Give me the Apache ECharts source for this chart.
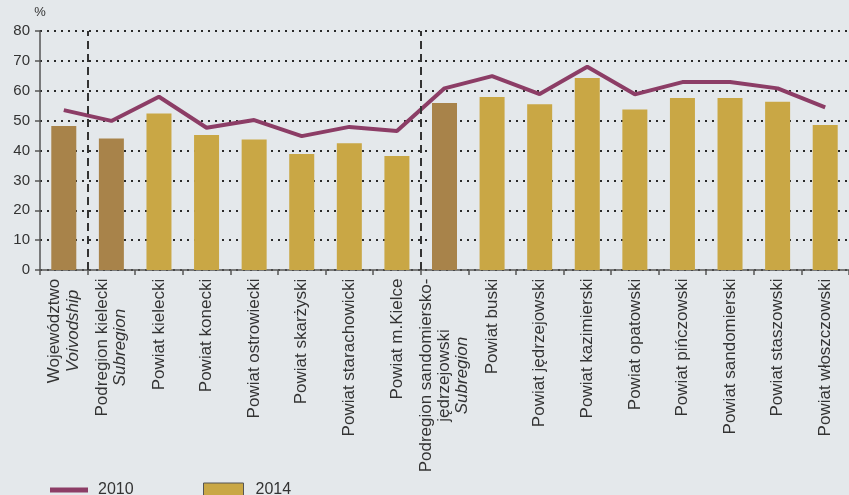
<!DOCTYPE html>
<html>
<head>
<meta charset="utf-8">
<script src="https://cdn.jsdelivr.net/npm/echarts@6/dist/echarts.min.js"></script>
<style>
  html, body { margin: 0; padding: 0; background: #e4e8eb; }
  #chart { width: 849px; height: 495px; }
</style>
</head>
<body>
<div id="chart"></div>
<script>
var categories = ['Województwo', 'Podregion kielecki', 'Powiat kielecki', 'Powiat konecki',
    'Powiat ostrowiecki', 'Powiat skarżyski', 'Powiat starachowicki', 'Powiat m.Kielce',
    'Podregion sandomiersko-\njędrzejowski', 'Powiat buski', 'Powiat jędrzejowski',
    'Powiat kazimierski', 'Powiat opatowski', 'Powiat pińczowski', 'Powiat sandomierski',
    'Powiat staszowski', 'Powiat włoszczowski'];
var englishNames = ['Voivodship', 'Subregion', '', '', '', '', '', '', 'Subregion', '', '', '', '', '', '', '', ''];
var isAggregate = [true, true, false, false, false, false, false, false, true, false, false, false, false, false, false, false, false];
var values2010 = [53.5, 49.9, 58.0, 47.6, 50.2, 44.8, 47.9, 46.5, 60.8, 64.9, 58.9, 68.0, 58.8, 62.9, 62.9, 60.8, 54.4];
var values2014 = [48.2, 44.0, 52.4, 45.2, 43.7, 38.8, 42.4, 38.2, 55.9, 57.9, 55.5, 64.3, 53.7, 57.6, 57.6, 56.3, 48.5];
var groupBoundaries = [1, 8];
var yTicks = { min: 0, max: 80, interval: 10 };

var chart = echarts.init(document.getElementById('chart'));
var font = "'Liberation Sans', Arial, sans-serif";
var labelSize = 17;

// width of the widest line per label, so multi-line labels can be centred
var ctx = document.createElement('canvas').getContext('2d');
function textWidth(s, italic) {
    ctx.font = (italic ? 'italic ' : '') + labelSize + 'px ' + font;
    return ctx.measureText(s).width;
}
var rich = {};
categories.forEach(function (c, i) {
    var w = 0;
    c.split('\n').forEach(function (l) { w = Math.max(w, textWidth(l, false)); });
    if (englishNames[i]) w = Math.max(w, textWidth(englishNames[i], true));
    w = Math.ceil(w) + 1;
    rich['a' + i] = { fontSize: labelSize, color: '#333', fontFamily: font, width: w, align: 'center', lineHeight: 18 };
    rich['i' + i] = { fontSize: labelSize, color: '#333', fontFamily: font, fontStyle: 'italic', width: w, align: 'center', lineHeight: 18 };
});

var option = {
    backgroundColor: '#e4e8eb',
    textStyle: { fontFamily: font },
    grid: { left: 40, top: 31, bottom: 225, width: 814 },
    legend: [{
        data: [{ name: '2010', icon: 'rect' }],
        left: 45, top: 477,
        itemWidth: 38, itemHeight: 5,
        textStyle: { fontSize: 16, color: '#333', fontFamily: font, padding: [0, 0, 0, 5] }
    }, {
        data: [{ name: '2014', icon: 'rect' }],
        left: 198, top: 477,
        itemWidth: 40, itemHeight: 14,
        itemStyle: { borderColor: '#555', borderWidth: 1 },
        textStyle: { fontSize: 16, color: '#333', fontFamily: font, padding: [0, 0, 0, 7] }
    }],
    xAxis: [{
        type: 'category',
        data: categories,
        axisLine: { lineStyle: { color: '#555', width: 1.5 } },
        axisTick: { show: true, length: 5, lineStyle: { color: '#555', width: 1.5 } },
        axisLabel: {
            rotate: 90,
            interval: 0,
            margin: 8,
            color: '#333',
            formatter: function (value, idx) {
                var lines = value.split('\n').map(function (l) { return '{a' + idx + '|' + l + '}'; });
                if (englishNames[idx]) lines.push('{i' + idx + '|' + englishNames[idx] + '}');
                return lines.join('\n');
            },
            rich: rich
        }
    }, {
        type: 'value', min: 0, max: categories.length, show: false
    }],
    yAxis: {
        type: 'value',
        min: yTicks.min, max: yTicks.max, interval: yTicks.interval,
        name: '%',
        nameLocation: 'end',
        nameGap: 12,
        nameTextStyle: { fontSize: 13, color: '#333', align: 'center' },
        axisLine: { show: true, lineStyle: { color: '#555', width: 1.5 } },
        axisTick: { show: true, length: 5, lineStyle: { color: '#555', width: 1.5 } },
        axisLabel: { fontSize: 15, color: '#333', margin: 10 },
        splitLine: { show: true, lineStyle: { color: '#2a2a2a', width: 2, type: [2, 5] } }
    },
    series: [{
        name: '2014',
        type: 'bar',
        barWidth: 25,
        itemStyle: { color: '#c9a745' },
        data: values2014.map(function (v, i) {
            return isAggregate[i] ? { value: v, itemStyle: { color: '#a8834a' } } : v;
        }),
        z: 2
    }, {
        name: '2010',
        type: 'line',
        symbol: 'none',
        data: values2010,
        itemStyle: { color: '#8c3d66' },
        lineStyle: { color: '#8c3d66', width: 4 },
        z: 4
    }, {
        name: 'dividers',
        type: 'line',
        xAxisIndex: 1,
        data: [],
        markLine: {
            symbol: 'none',
            silent: true,
            label: { show: false },
            lineStyle: { color: '#333', width: 2, type: [8, 5] },
            data: groupBoundaries.map(function (b) { return { xAxis: b }; })
        },
        z: 3
    }]
};

chart.setOption(option);
</script>
</body>
</html>
